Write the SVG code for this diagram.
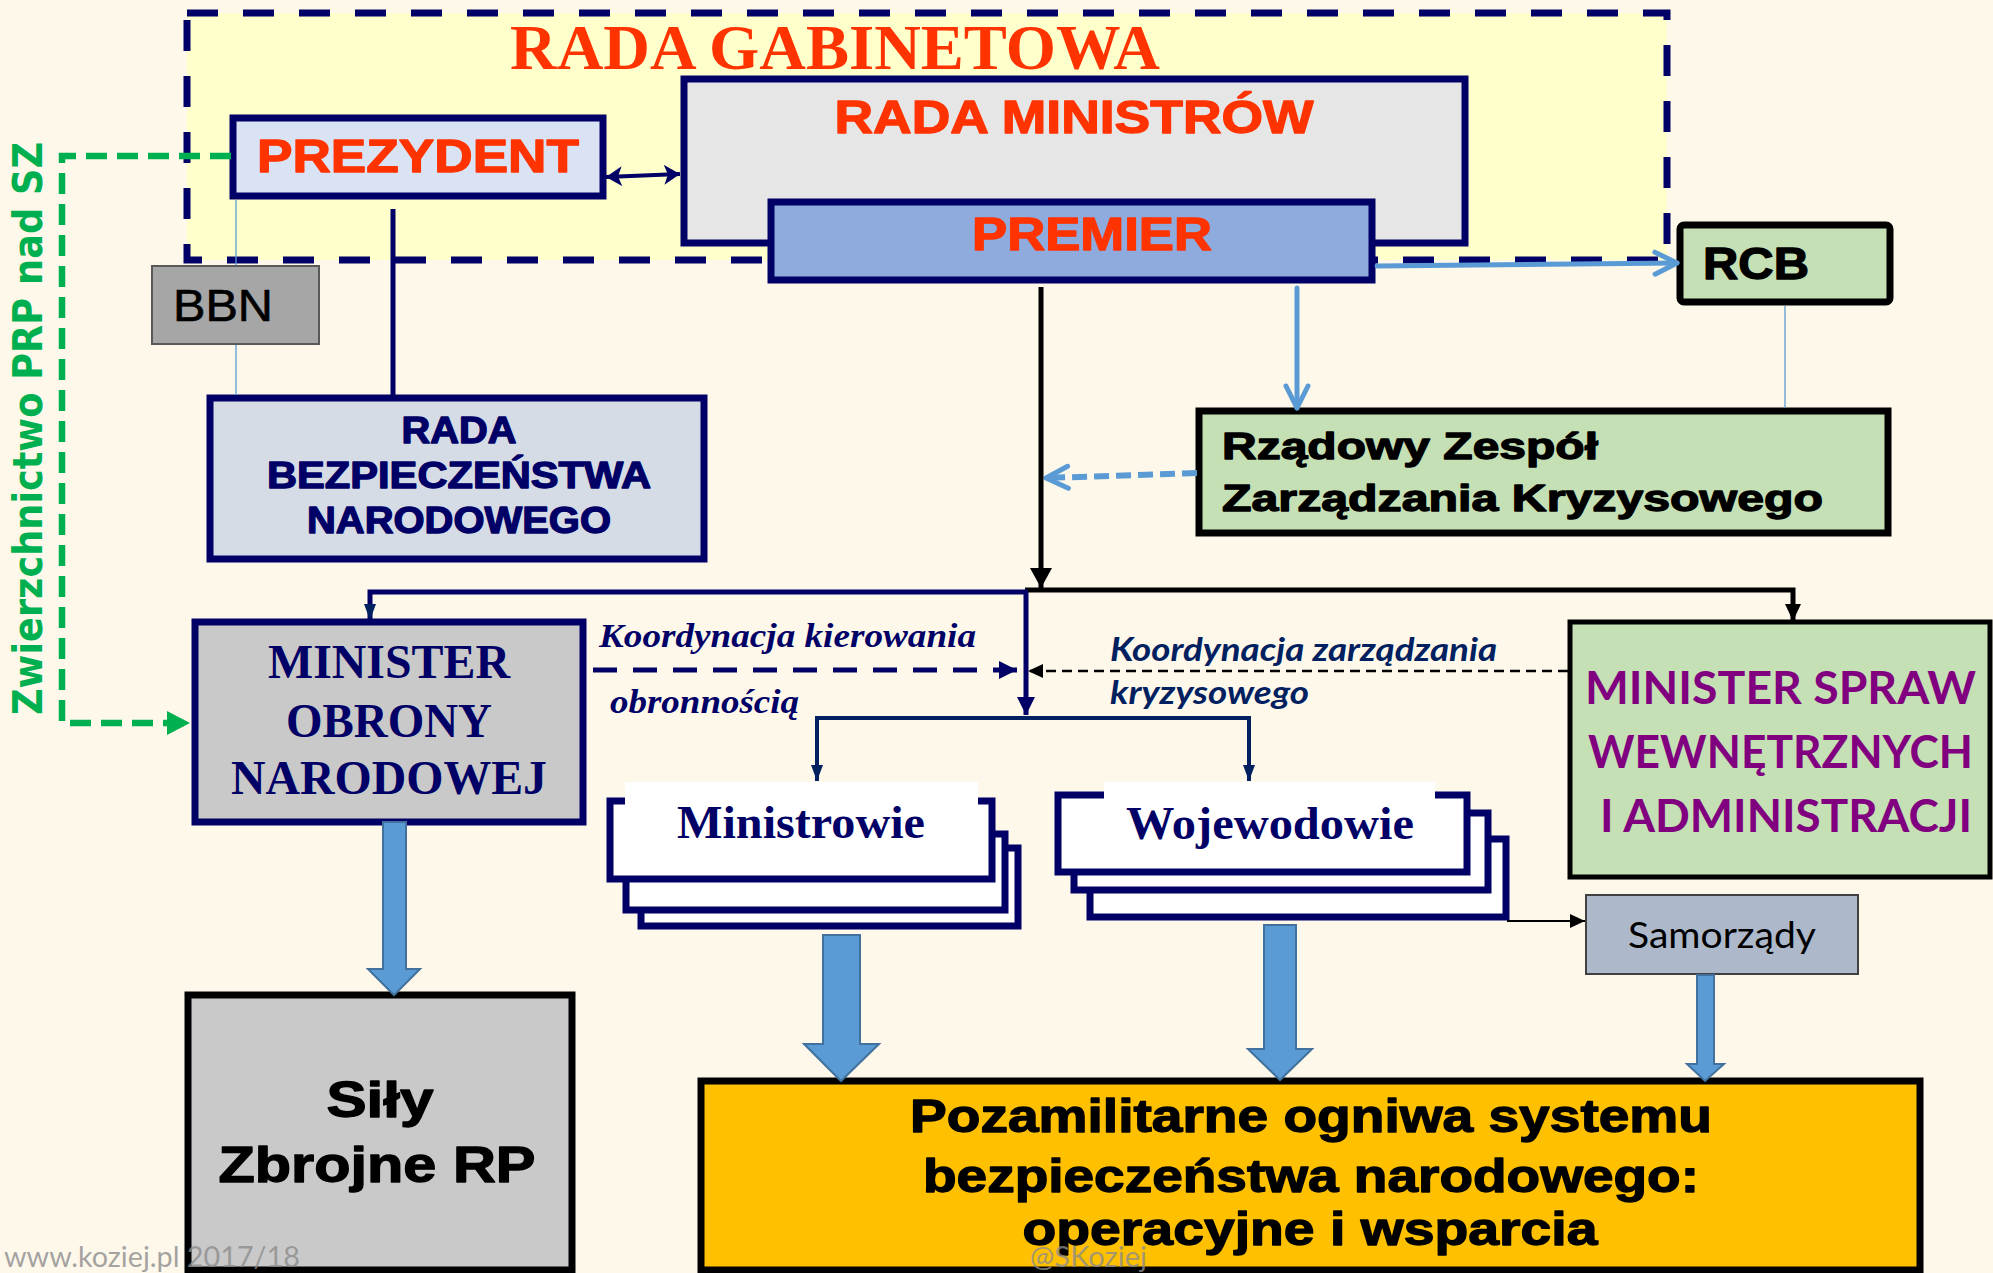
<svg xmlns="http://www.w3.org/2000/svg" width="1993" height="1273" viewBox="0 0 1993 1273">
<style>
.heavy{font-family:"Liberation Sans",Arial,sans-serif;font-weight:bold;stroke-width:1.3;stroke-linejoin:round}
.serif{font-family:"Liberation Serif","Times New Roman",serif;font-weight:bold}
.cal{font-family:Lato,"Open Sans",sans-serif}
.navybox{stroke:#000066;stroke-width:7}
.blkbox{stroke:#000;stroke-width:7}
.hr{fill:#FF3300;stroke:#FF3300}
.hn{fill:#000066;stroke:#000066}
.hb{fill:#000;stroke:#000}
.navytxt{fill:#000066}
.stack{fill:#fff;stroke:#000066;stroke-width:7}
.block{fill:#5B9BD5;stroke:#41719C;stroke-width:2}
</style>
<defs>
<marker id="mBlkBig" markerUnits="userSpaceOnUse" markerWidth="24" markerHeight="24" refX="20" refY="11" orient="auto"><path d="M0,0 L20,11 L0,22 Z" fill="#000"/></marker>
<marker id="mBlk" markerUnits="userSpaceOnUse" markerWidth="20" markerHeight="20" refX="17" refY="8" orient="auto"><path d="M0,0 L17,8 L0,16 Z" fill="#000"/></marker>
<marker id="mBlkSm" markerUnits="userSpaceOnUse" markerWidth="18" markerHeight="18" refX="15" refY="7" orient="auto"><path d="M0,0 L15,7 L0,14 Z" fill="#000"/></marker>
<marker id="mNavy" markerUnits="userSpaceOnUse" markerWidth="22" markerHeight="22" refX="18" refY="9" orient="auto"><path d="M0,0 L18,9 L0,18 Z" fill="#000066"/></marker>
<marker id="mNavySm" markerUnits="userSpaceOnUse" markerWidth="20" markerHeight="16" refX="16" refY="6" orient="auto"><path d="M0,0 L16,6 L0,12 Z" fill="#002060"/></marker>
<marker id="mNavyDbl" markerUnits="userSpaceOnUse" markerWidth="20" markerHeight="22" refX="16" refY="10" orient="auto-start-reverse"><path d="M0,0 L16,10 L0,20 L4,10 Z" fill="#000066"/></marker>
<marker id="mGreen" markerUnits="userSpaceOnUse" markerWidth="26" markerHeight="26" refX="23" refY="12" orient="auto"><path d="M0,0 L23,12 L0,24 Z" fill="#00B050"/></marker>
<marker id="mChev" markerUnits="userSpaceOnUse" markerWidth="30" markerHeight="30" refX="25" refY="14" orient="auto"><path d="M3,3 L25,14 L3,25" fill="none" stroke="#5B9BD5" stroke-width="5" stroke-linecap="round" stroke-linejoin="round"/></marker>
</defs>

<rect width="1993" height="1273" fill="#FEF8EB"/>

<g id="rada-gabinetowa">
<rect x="187" y="13" width="1480" height="247" fill="#FFFFCC" stroke="#000066" stroke-width="7" stroke-dasharray="31 25"/>
<text x="510" y="69" class="serif" font-size="64" fill="#FF3300" textLength="650" lengthAdjust="spacingAndGlyphs">RADA GABINETOWA</text>
</g>

<g id="bbn">
<rect x="152" y="266" width="167" height="78" fill="#A6A6A6" stroke="#595959" stroke-width="2"/>
<text x="173" y="321" font-family="'Liberation Sans',Arial,sans-serif" font-size="44" fill="#000" stroke="#000" stroke-width="0.6" textLength="100" lengthAdjust="spacingAndGlyphs">BBN</text>
</g>

<g id="prezydent">
<rect x="233" y="118" width="370" height="78" fill="#DAE3F3" class="navybox"/>
<text x="418" y="172" text-anchor="middle" class="heavy hr" font-size="47" textLength="322" lengthAdjust="spacingAndGlyphs">PREZYDENT</text>
</g>

<g id="rada-ministrow">
<rect x="684" y="79" width="781" height="164" fill="#E7E6E6" class="navybox"/>
<text x="1074" y="133" text-anchor="middle" class="heavy hr" font-size="46" textLength="479" lengthAdjust="spacingAndGlyphs">RADA MINISTRÓW</text>
</g>

<g id="premier">
<rect x="771" y="202" width="601" height="78" fill="#8FAADC" class="navybox"/>
<text x="972" y="250" class="heavy hr" font-size="47" textLength="240" lengthAdjust="spacingAndGlyphs">PREMIER</text>
</g>

<g id="rbn">
<rect x="210" y="398" width="494" height="161" fill="#D6DCE5" class="navybox"/>
<text x="459" y="443" text-anchor="middle" class="heavy hn" font-size="36" textLength="115" lengthAdjust="spacingAndGlyphs">RADA</text>
<text x="459" y="488" text-anchor="middle" class="heavy hn" font-size="36" textLength="384" lengthAdjust="spacingAndGlyphs">BEZPIECZEŃSTWA</text>
<text x="459" y="533" text-anchor="middle" class="heavy hn" font-size="36" textLength="304" lengthAdjust="spacingAndGlyphs">NARODOWEGO</text>
</g>

<g id="rcb">
<rect x="1680" y="225" width="210" height="77" rx="4" fill="#C5E0B4" class="blkbox"/>
<text x="1703" y="279" class="heavy hb" font-size="45" textLength="106" lengthAdjust="spacingAndGlyphs">RCB</text>
</g>

<g id="rzzk">
<rect x="1199" y="411" width="689" height="122" fill="#C5E0B4" class="blkbox"/>
<text x="1222" y="459" class="heavy hb" font-size="37" textLength="376" lengthAdjust="spacingAndGlyphs">Rządowy Zespół</text>
<text x="1222" y="511" class="heavy hb" font-size="37" textLength="601" lengthAdjust="spacingAndGlyphs">Zarządzania Kryzysowego</text>
</g>

<g id="mon">
<rect x="195" y="622" width="388" height="200" fill="#C9C9C9" class="navybox"/>
<text x="389" y="678" text-anchor="middle" class="serif navytxt" font-size="48" textLength="242" lengthAdjust="spacingAndGlyphs">MINISTER</text>
<text x="389" y="737" text-anchor="middle" class="serif navytxt" font-size="48" textLength="206" lengthAdjust="spacingAndGlyphs">OBRONY</text>
<text x="389" y="794" text-anchor="middle" class="serif navytxt" font-size="48" textLength="316" lengthAdjust="spacingAndGlyphs">NARODOWEJ</text>
</g>

<g id="mswia">
<rect x="1570" y="622" width="420" height="255" fill="#C5E0B4" stroke="#000" stroke-width="5"/>
<text x="1585" y="704" class="cal" font-weight="bold" font-size="46" fill="#800080" textLength="391" lengthAdjust="spacingAndGlyphs">MINISTER SPRAW</text>
<text x="1588" y="768" class="cal" font-weight="bold" font-size="46" fill="#800080" textLength="385" lengthAdjust="spacingAndGlyphs">WEWNĘTRZNYCH</text>
<text x="1600" y="832" class="cal" font-weight="bold" font-size="46" fill="#800080" textLength="372" lengthAdjust="spacingAndGlyphs">I ADMINISTRACJI</text>
</g>

<g id="ministrowie">
<rect x="641" y="848" width="377" height="78" class="stack"/>
<rect x="626" y="834" width="379" height="76" class="stack"/>
<rect x="610" y="801" width="382" height="78" class="stack"/>
<rect x="625" y="782" width="353" height="80" fill="#fff"/>
<text x="677" y="838" class="serif navytxt" font-size="47" textLength="248" lengthAdjust="spacingAndGlyphs">Ministrowie</text>
</g>

<g id="wojewodowie">
<rect x="1090" y="839" width="416" height="78" class="stack"/>
<rect x="1074" y="813" width="414" height="77" class="stack"/>
<rect x="1058" y="795" width="409" height="77" class="stack"/>
<rect x="1104" y="782" width="331" height="80" fill="#fff"/>
<text x="1126" y="839" class="serif navytxt" font-size="47" textLength="288" lengthAdjust="spacingAndGlyphs">Wojewodowie</text>
</g>

<g id="samorzady">
<rect x="1586" y="895" width="272" height="79" fill="#ADB9CA" stroke="#404040" stroke-width="2"/>
<text x="1628" y="948" class="cal" font-size="37" fill="#000" textLength="188" lengthAdjust="spacingAndGlyphs">Samorządy</text>
</g>

<g id="sily-zbrojne">
<rect x="188" y="995" width="384" height="275" fill="#C9C9C9" class="blkbox"/>
<text x="380" y="1117" text-anchor="middle" class="heavy hb" font-size="50" textLength="107" lengthAdjust="spacingAndGlyphs">Siły</text>
<text x="377" y="1182" text-anchor="middle" class="heavy hb" font-size="50" textLength="317" lengthAdjust="spacingAndGlyphs">Zbrojne RP</text>
</g>

<g id="pozamilitarne">
<rect x="701" y="1081" width="1219" height="189" fill="#FFC000" class="blkbox"/>
<text x="1311" y="1132" text-anchor="middle" class="heavy hb" font-size="46" textLength="802" lengthAdjust="spacingAndGlyphs">Pozamilitarne ogniwa systemu</text>
<text x="1311" y="1192" text-anchor="middle" class="heavy hb" font-size="46" textLength="776" lengthAdjust="spacingAndGlyphs">bezpieczeństwa narodowego:</text>
<text x="1310" y="1245" text-anchor="middle" class="heavy hb" font-size="46" textLength="575" lengthAdjust="spacingAndGlyphs">operacyjne i wsparcia</text>
</g>

<g id="connectors" fill="none">
<path d="M606,177 L680,174" stroke="#000066" stroke-width="4" marker-start="url(#mNavyDbl)" marker-end="url(#mNavyDbl)"/>
<path d="M393,209 V395" stroke="#000066" stroke-width="5"/>
<path d="M236,200 V265 M236,345 V395" stroke="#5B9BD5" stroke-width="1.3"/>
<path d="M1785,306 V408" stroke="#5B9BD5" stroke-width="1.3"/>
<path d="M231,156 H62 V723 H190" stroke="#00B050" stroke-width="6.5" stroke-dasharray="21 10" marker-end="url(#mGreen)"/>
<path d="M1377,266 L1677,263" stroke="#5B9BD5" stroke-width="5" stroke-linecap="round" marker-end="url(#mChev)"/>
<path d="M1297,288 V408" stroke="#5B9BD5" stroke-width="5" stroke-linecap="round" marker-end="url(#mChev)"/>
<path d="M1197,473 L1046,478" stroke="#5B9BD5" stroke-width="6" stroke-dasharray="15 7" marker-end="url(#mChev)"/>
<path d="M1041,287 V588" stroke="#000" stroke-width="5" marker-end="url(#mBlkBig)"/>
<path d="M1025,590 H1793 V621" stroke="#000" stroke-width="5" marker-end="url(#mBlk)"/>
<path d="M1028,592 H370 V620" stroke="#000066" stroke-width="5" marker-end="url(#mNavySm)"/>
<path d="M1026,592 V715" stroke="#000066" stroke-width="5" marker-end="url(#mNavy)"/>
<path d="M817,718 H1249" stroke="#002060" stroke-width="4"/>
<path d="M817,716 V781" stroke="#002060" stroke-width="4" marker-end="url(#mNavySm)"/>
<path d="M1249,716 V781" stroke="#002060" stroke-width="4" marker-end="url(#mNavySm)"/>
<path d="M593,670 H1017" stroke="#000066" stroke-width="5" stroke-dasharray="24 16" marker-end="url(#mNavy)"/>
<path d="M1568,671 H1028" stroke="#000" stroke-width="2.5" stroke-dasharray="10 6" marker-end="url(#mBlkSm)"/>
<path d="M1507,921 H1585" stroke="#000" stroke-width="2" marker-end="url(#mBlkSm)"/>
<polygon class="block" points="383,822 406,822 406,969 420,969 394,995 368,969 383,969"/>
<polygon class="block" points="823,935 860,935 860,1044 879,1044 841,1081 804,1044 823,1044"/>
<polygon class="block" points="1264,925 1296,925 1296,1049 1312,1049 1280,1080 1248,1049 1264,1049"/>
<polygon class="block" points="1697,975 1714,975 1714,1064 1724,1064 1705,1081 1687,1064 1697,1064"/>
</g>

<g id="labels">
<text x="599" y="647" font-family="'Liberation Serif','Times New Roman',serif" font-weight="bold" font-style="italic" font-size="33" fill="#000066" textLength="377" lengthAdjust="spacingAndGlyphs">Koordynacja kierowania</text>
<text x="610" y="713" font-family="'Liberation Serif','Times New Roman',serif" font-weight="bold" font-style="italic" font-size="33" fill="#000066" textLength="189" lengthAdjust="spacingAndGlyphs">obronnością</text>
<text x="1110" y="661" class="cal" font-weight="bold" font-style="italic" font-size="33" fill="#002060" textLength="387" lengthAdjust="spacingAndGlyphs">Koordynacja zarządzania</text>
<text x="1110" y="704" class="cal" font-weight="bold" font-style="italic" font-size="33" fill="#002060" textLength="199" lengthAdjust="spacingAndGlyphs">kryzysowego</text>
<text transform="translate(42,428.5) rotate(-90)" text-anchor="middle" font-family="'DejaVu Sans',Verdana,sans-serif" font-weight="bold" font-size="40" fill="#00B050" textLength="573" lengthAdjust="spacingAndGlyphs">Zwierzchnictwo PRP nad SZ</text>
</g>

<g id="watermarks" fill="#8C8C8C" fill-opacity="0.8">
<text x="4" y="1267" class="cal" font-size="29" textLength="296" lengthAdjust="spacingAndGlyphs">www.koziej.pl 2017/18</text>
<text x="1030" y="1267" class="cal" font-size="29" textLength="117" lengthAdjust="spacingAndGlyphs">@SKoziej</text>
</g>
</svg>
